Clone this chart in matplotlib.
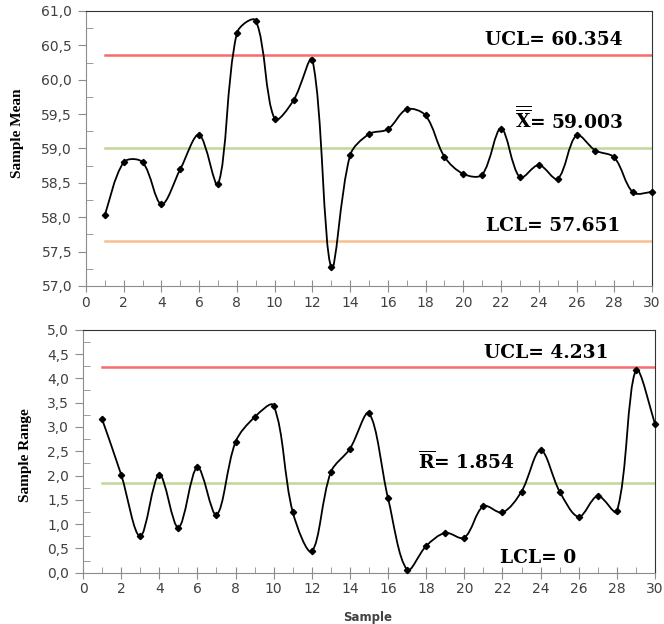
import numpy as np
import matplotlib
matplotlib.use("Agg")
import matplotlib.pyplot as plt
from matplotlib.path import Path
from matplotlib.patches import PathPatch
from matplotlib.ticker import MultipleLocator, FuncFormatter

# Dados (cartas X-barra e R).
samples = list(range(1, 31))
sample_mean = [58.03, 58.80, 58.80, 58.19, 58.70, 59.20, 58.48, 60.68, 60.86, 59.43,
               59.70, 60.29, 57.27, 58.90, 59.21, 59.28, 59.57, 59.48, 58.88, 58.63,
               58.62, 59.29, 58.58, 58.76, 58.56, 59.19, 58.97, 58.87, 58.36, 58.37]
sample_range = [3.16, 2.02, 0.75, 2.02, 0.93, 2.17, 1.19, 2.69, 3.20, 3.44,
                1.25, 0.44, 2.07, 2.55, 3.28, 1.53, 0.06, 0.55, 0.82, 0.72,
                1.37, 1.24, 1.67, 2.52, 1.67, 1.15, 1.58, 1.26, 4.17, 3.06]
mean_limits = {"UCL": 60.354, "CL": 59.003, "LCL": 57.651}
range_limits = {"UCL": 4.231, "CL": 1.854, "LCL": 0.0}

plt.rcParams['mathtext.fontset'] = 'dejavuserif'

RED = '#f96a6a'
GREEN = '#c2d69b'
ORANGE = '#f8c090'


# Curva suavizada tipo Excel: Bezier cujos bracos sao proporcionais
# ao comprimento de cada segmento (medido em pixels).
def SmoothPath(x, y, sx, sy):
  n = len(x)
  seg = np.hypot(np.diff(x * sx), np.diff(y * sy))
  verts = [(x[0], y[0])]
  codes = [Path.MOVETO]
  for i in range(n - 1):
    a = i - 1 if i > 0 else i
    b = i + 2 if i + 2 < n else i + 1
    # braco saindo do ponto i
    la = seg[i-1] + seg[i] if i > 0 else 2 * seg[i]
    fa = seg[i] / la / 3.0
    c1 = (x[i] + (x[i+1] - x[a]) * fa, y[i] + (y[i+1] - y[a]) * fa)
    # braco chegando no ponto i+1
    lb = seg[i] + seg[i+1] if i + 1 < n - 1 else 2 * seg[i]
    fb = seg[i] / lb / 3.0
    c2 = (x[i+1] - (x[b] - x[i]) * fb, y[i+1] - (y[b] - y[i]) * fb)
    verts += [c1, c2, (x[i+1], y[i+1])]
    codes += [Path.CURVE4] * 3
  return Path(verts, codes)


def StyleAxis(ax, ymin, ymax):
  ax.set_xlim(0, 30)
  ax.set_ylim(ymin, ymax)
  ax.xaxis.set_major_locator(MultipleLocator(2))
  ax.xaxis.set_minor_locator(MultipleLocator(1))
  ax.yaxis.set_major_locator(MultipleLocator(0.5))
  ax.yaxis.set_minor_locator(MultipleLocator(0.25))
  ax.yaxis.set_major_formatter(FuncFormatter(lambda v, p: ("%.1f" % v).replace('.', ',')))
  ax.tick_params(axis='x', which='major', direction='inout', length=8, color='#8c8c8c',
                 labelsize=10, labelcolor='#404040', pad=3)
  ax.tick_params(axis='x', which='minor', direction='in', length=4, color='#8c8c8c')
  ax.tick_params(axis='y', which='major', direction='out', length=6, color='#8c8c8c',
                 labelsize=10, labelcolor='#404040', pad=4)
  ax.tick_params(axis='y', which='minor', direction='in', length=5, color='#8c8c8c')
  for s in ['left', 'bottom']:
    ax.spines[s].set_color('#8c8c8c')
  for s in ['top', 'right']:
    ax.spines[s].set_color('#333333')
  ax.patch.set_visible(False)


def PlotChart(ax, y, limits, colors, ymin, ymax):
  x = np.array(samples, dtype=float)
  y = np.array(y, dtype=float)
  bbox = ax.get_position()
  sx = bbox.width * 664 / 30.0
  sy = bbox.height * 624 / (ymax - ymin)
  for key, c in zip(["UCL", "CL", "LCL"], colors):
    if c is not None:
      ax.plot([x[0], x[-1]], [limits[key]] * 2, color=c, lw=1.8, zorder=1)
  ax.add_patch(PathPatch(SmoothPath(x, y, sx, sy), fill=False, edgecolor='black',
                         lw=1.3, zorder=3))
  ax.plot(x, y, linestyle='', marker='D', markersize=3.2, color='black', zorder=4,
          clip_on=False)
  StyleAxis(ax, ymin, ymax)


fig = plt.figure(figsize=(6.64, 6.24), dpi=100)

ax1 = fig.add_axes([0.1295, 0.5417, 0.8524, 0.4407])
PlotChart(ax1, sample_mean, mean_limits, [RED, GREEN, ORANGE], 57.0, 61.0)

tfont = dict(family='DejaVu Serif', weight='bold', fontsize=13.4, ha='right', va='baseline')
ax1.text(28.46, 60.505, "UCL= 60.354", **tfont)
ax1.text(28.46, 59.28, r"$\overline{\overline{\mathbf{X}}}$= 59.003", **tfont)
ax1.text(28.3, 57.80, "LCL= 57.651", **tfont)

ax2 = fig.add_axes([0.125, 0.0822, 0.8614, 0.3894])
PlotChart(ax2, sample_range, range_limits, [RED, GREEN, None], 0.0, 5.0)

ax2.text(27.58, 4.41, "UCL= 4.231", **tfont)
ax2.text(22.65, 2.13, r"$\overline{\mathbf{R}}$= 1.854", **tfont)
ax2.text(25.85, 0.21, "LCL= 0", **tfont)

fig.text(0.027, 0.787, "Sample Mean", rotation=90, ha='center', va='center',
         family='Liberation Serif', weight='bold', fontsize=11)
fig.text(0.038, 0.271, "Sample Range", rotation=90, ha='center', va='center',
         family='Liberation Serif', weight='bold', fontsize=11)
fig.text(0.554, 0.011, "Sample", ha='center', va='center',
         family='DejaVu Sans', weight='bold', fontsize=8.5, color='#404040')

fig.savefig("out.png", dpi=100)
